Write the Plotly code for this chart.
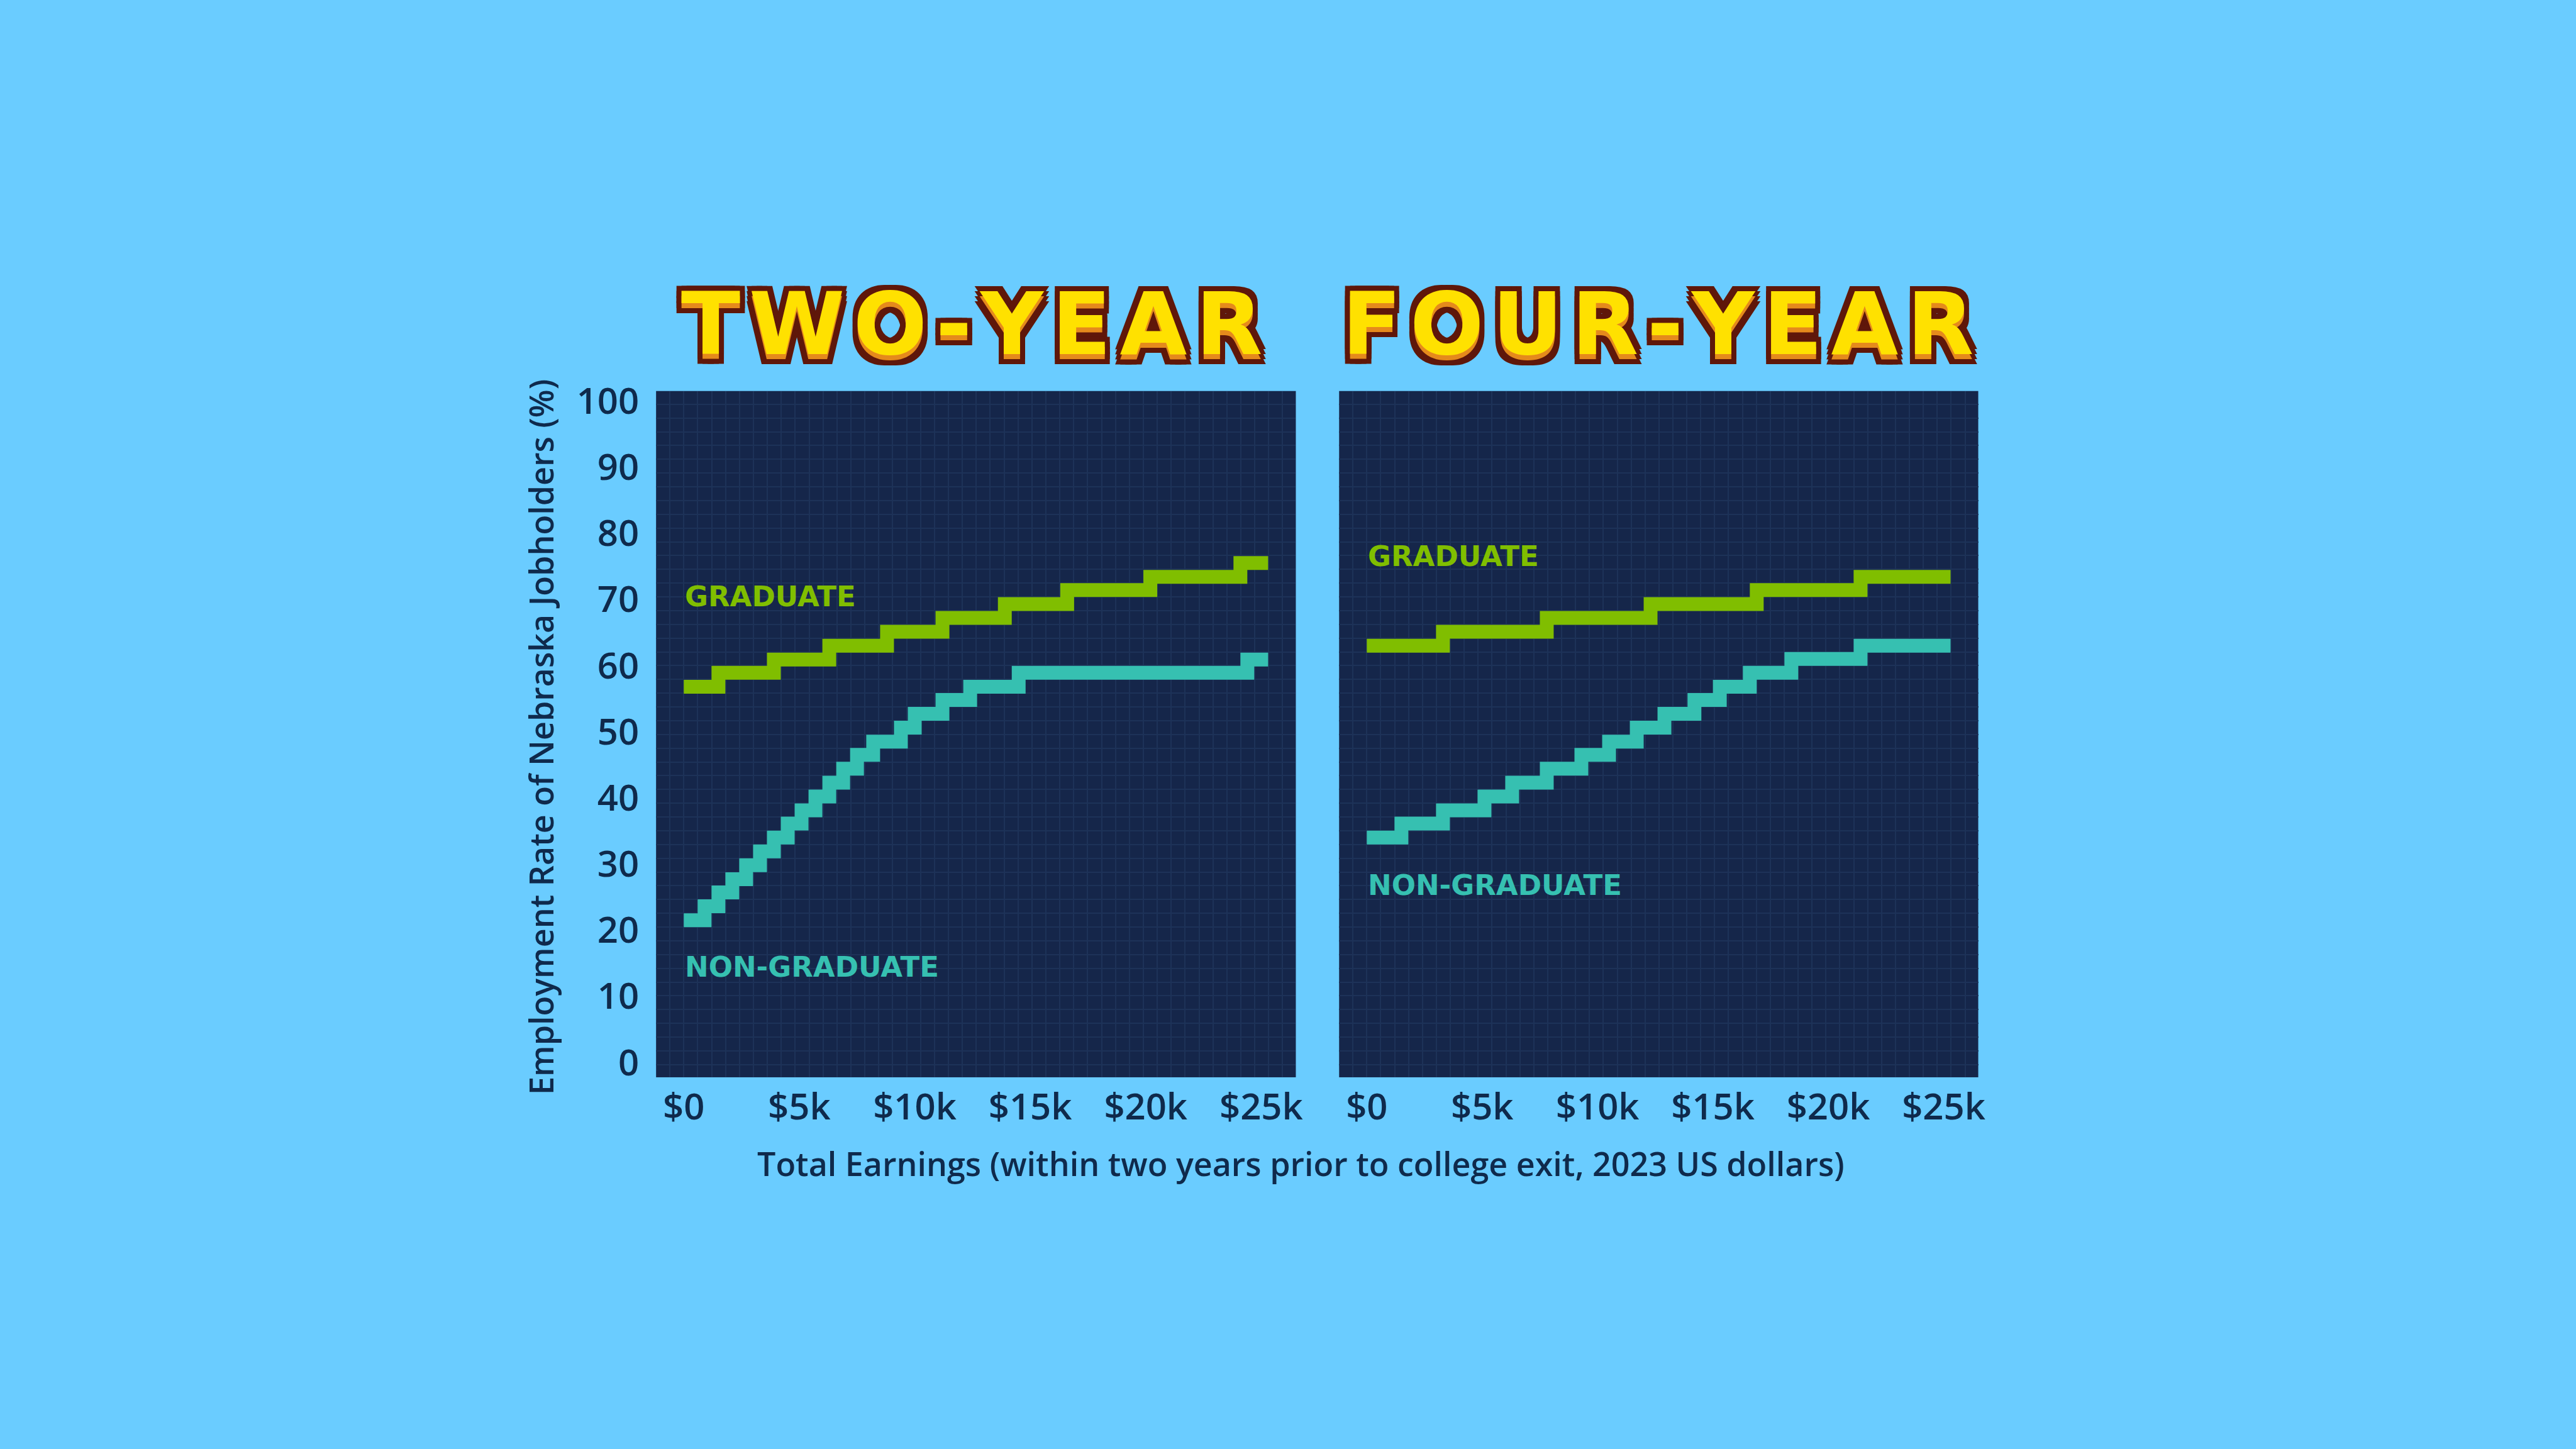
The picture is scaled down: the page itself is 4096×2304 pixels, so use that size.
import plotly.graph_objects as go
from plotly.subplots import make_subplots

# Earnings thresholds ($k) where each staircase steps up, and the employment rate (%) held from there
two_grad_x = [0.0, 1.5, 3.9, 6.3, 8.8, 11.2, 13.9, 16.6, 20.2, 24.1, 25.3]
two_grad_y = [56.8, 58.9, 60.9, 63.0, 65.1, 67.2, 69.3, 71.4, 73.4, 75.5, 75.5]

two_non_x = [0.0, 0.9, 1.5, 2.1, 2.7, 3.3, 3.9, 4.5, 5.1, 5.7, 6.3, 6.9, 7.5, 8.2, 9.4, 10.0,
             11.2, 12.4, 14.5, 24.4, 25.3]
two_non_y = [21.5, 23.6, 25.7, 27.7, 29.8, 31.9, 34.0, 36.1, 38.1, 40.2, 42.3, 44.4, 46.5, 48.5,
             50.6, 52.7, 54.8, 56.8, 58.9, 60.9, 60.9]

four_grad_x = [0.0, 3.3, 7.8, 12.3, 16.9, 21.4, 25.3]
four_grad_y = [63.0, 65.1, 67.2, 69.3, 71.4, 73.4, 73.4]

four_non_x = [0.0, 1.5, 3.3, 5.1, 6.3, 7.8, 9.3, 10.5, 11.7, 12.9, 14.2, 15.3, 16.6, 18.4, 21.4, 25.3]
four_non_y = [34.0, 36.1, 38.1, 40.2, 42.3, 44.4, 46.5, 48.5, 50.6, 52.7, 54.8, 56.8, 58.9, 61.0,
              63.0, 63.0]

panel_titles = ["TWO-YEAR", "FOUR-YEAR"]
x_ticks = [0, 5, 10, 15, 20, 25]
x_tick_text = ["$0", "$5k", "$10k", "$15k", "$20k", "$25k"]
y_ticks = [0, 10, 20, 30, 40, 50, 60, 70, 80, 90, 100]

# label anchor positions (x in $k, y in %)
grad_label_y = [70.4, 76.5]
non_label_y = [14.4, 26.8]

SKY = "#6accff"
PANEL = "#15264a"
GRID = "#1d3258"
INK = "#0f2a4c"
GREEN = "#80be00"
TEAL = "#36c0b1"
YELLOW = "#ffe100"
ORANGE = "#e58a1c"
OUTLINE = "#5f170a"

W, H = 4096, 2304

fig = make_subplots(rows=1, cols=2, shared_yaxes=True, horizontal_spacing=0.02)

series = [
    (two_grad_x, two_grad_y, GREEN, 1),
    (two_non_x, two_non_y, TEAL, 1),
    (four_grad_x, four_grad_y, GREEN, 2),
    (four_non_x, four_non_y, TEAL, 2),
]
for xs, ys, color, col in series:
    fig.add_trace(
        go.Scatter(x=xs, y=ys, mode="lines", line=dict(color=color, width=22, shape="hv"),
                   hoverinfo="skip", showlegend=False),
        row=1, col=col,
    )

axis_font = dict(family="Open Sans", size=58, color=INK, weight=600)

fig.update_xaxes(
    range=[-1.2, 26.5], tickvals=x_ticks, ticktext=x_tick_text, tickfont=axis_font,
    showgrid=False, zeroline=False, showline=False, ticks="", ticklabelstandoff=8,
    minor=dict(tickmode="linear", tick0=0, dtick=0.603, showgrid=True, gridcolor=GRID, gridwidth=2),
)
fig.update_yaxes(
    range=[-2.25, 101.5], tickvals=y_ticks, tickfont=axis_font,
    showgrid=False, zeroline=False, showline=False, ticks="", ticklabelstandoff=26,
    minor=dict(tickmode="linear", tick0=1.74, dtick=2.08, showgrid=True, gridcolor=GRID, gridwidth=2),
)
fig.update_yaxes(showticklabels=False, row=1, col=2)

y_dom = [1 - 1716 / H, 1 - 606 / H]
fig.update_layout(
    xaxis=dict(domain=[1046 / W, 2066 / W]),
    xaxis2=dict(domain=[2135 / W, 3154 / W]),
    yaxis=dict(domain=y_dom),
    yaxis2=dict(domain=y_dom),
)

label_font = dict(family="DejaVu Sans", size=45, weight="bold")
for i, ref in enumerate(["", "2"]):
    fig.add_annotation(x=0, y=grad_label_y[i], xref="x" + ref, yref="y", text="GRADUATE",
                       showarrow=False, xanchor="left", yanchor="middle",
                       font=dict(label_font, color=GREEN))
    fig.add_annotation(x=0, y=non_label_y[i], xref="x" + ref, yref="y", text="NON-GRADUATE",
                       showarrow=False, xanchor="left", yanchor="middle",
                       font=dict(label_font, color=TEAL))

# blocky arcade titles: orange layer with dark outline, yellow layer nudged up;
# hair spaces between letters widen them out like the pixel font
shadow = ", ".join(f"{dx}px {dy}px 0 {OUTLINE}" for dx in (-8, 0, 8) for dy in (-16, -8, 0, 8))
title_x = [1549 / W, 2643 / W]
for tx, title in zip(title_x, panel_titles):
    spaced = "\u200a".join(title)
    base = dict(family="DejaVu Sans", size=138, weight="bold")
    fig.add_annotation(x=tx, y=1 - 506 / H, xref="paper", yref="paper", text=spaced, showarrow=False,
                       xanchor="center", yanchor="middle",
                       font=dict(base, color=ORANGE, shadow=shadow))
    fig.add_annotation(x=tx, y=1 - 506 / H, xref="paper", yref="paper", text=spaced, showarrow=False,
                       xanchor="center", yanchor="middle", yshift=8,
                       font=dict(base, color=YELLOW))

fig.add_annotation(x=2074 / W, y=1 - 1855 / H, xref="paper", yref="paper",
                   text="Total Earnings (within two years prior to college exit, 2023 US dollars)",
                   showarrow=False, xanchor="center", yanchor="middle",
                   font=dict(family="Open Sans", size=52, color=INK, weight=600))
fig.add_annotation(x=862 / W, y=1 - 1166 / H, xref="paper", yref="paper",
                   text="Employment Rate of Nebraska Jobholders (%)", textangle=-90,
                   showarrow=False, xanchor="center", yanchor="middle",
                   font=dict(family="Open Sans", size=52, color=INK, weight=600))

fig.update_layout(
    width=W, height=H,
    margin=dict(l=0, r=0, t=0, b=0),
    paper_bgcolor=SKY, plot_bgcolor=PANEL,
    showlegend=False,
)

fig.write_html("out.html", config={"displayModeBar": False},
               post_script="document.body.style.margin = '0';")
